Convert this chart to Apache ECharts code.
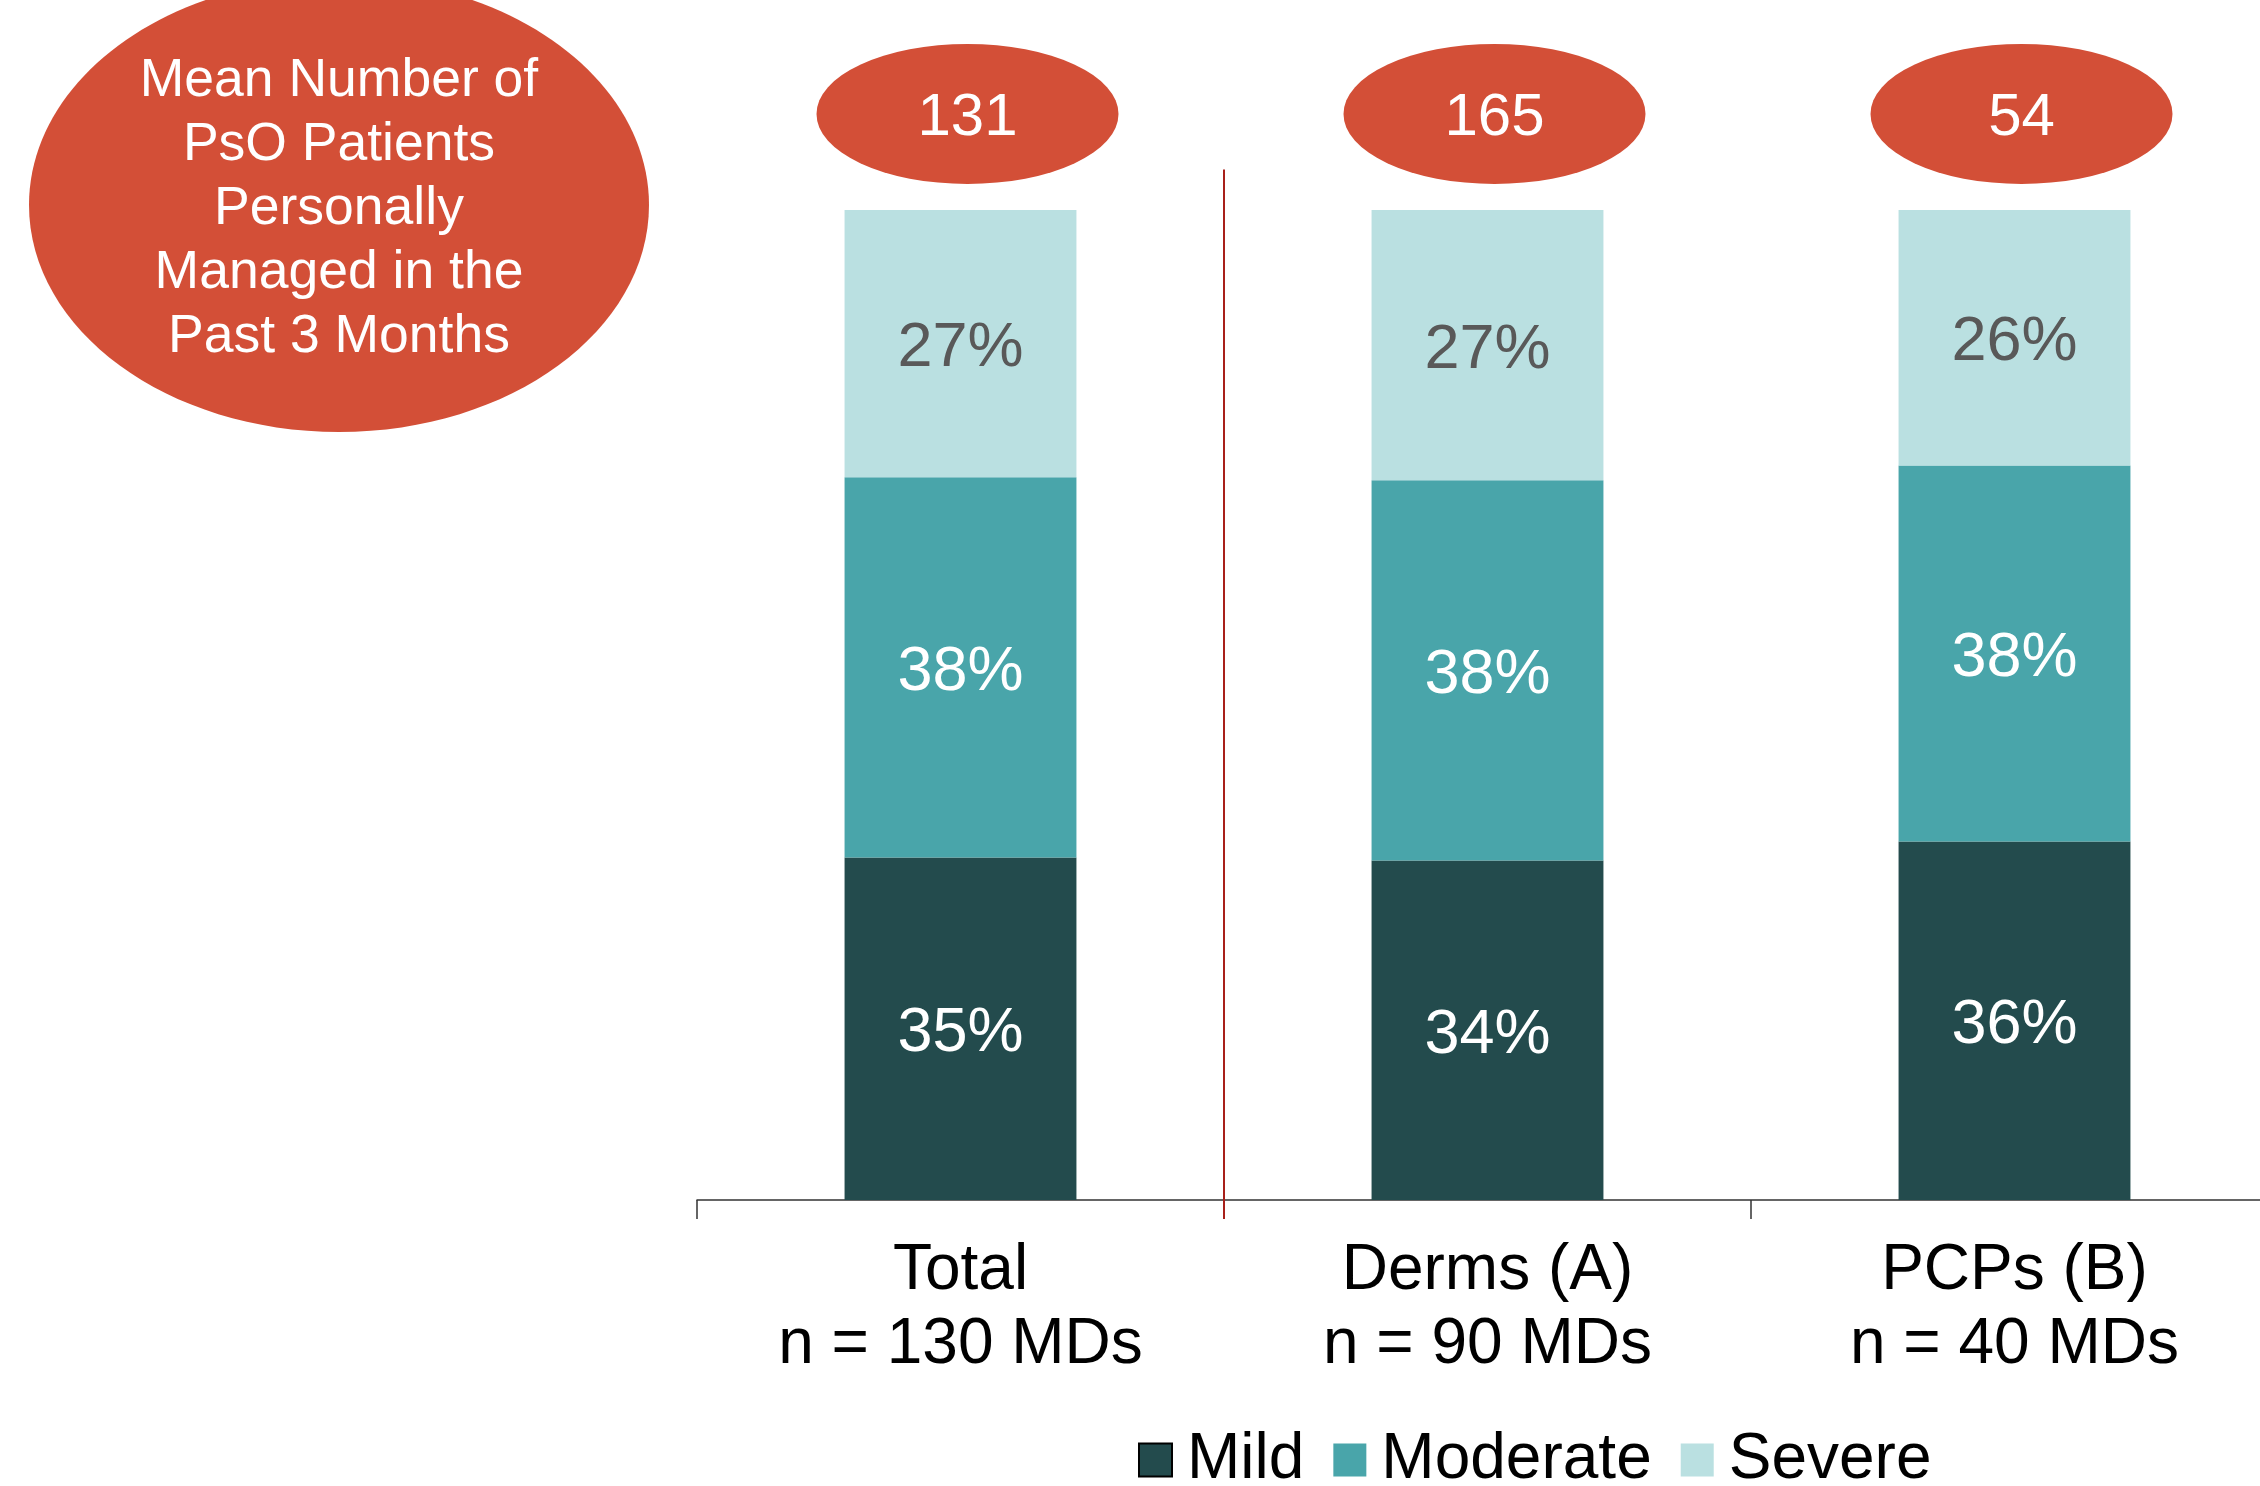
<!DOCTYPE html>
<html>
<head>
<meta charset="utf-8">
<script src="https://cdn.jsdelivr.net/npm/echarts@6/dist/echarts.min.js"></script>
<style>html,body{margin:0;padding:0;background:#fff;}#c{width:2260px;height:1486px;}</style>
</head>
<body>
<div id="c"></div>
<script>
const categories = ['Total\nn = 130 MDs', 'Derms (A)\nn = 90 MDs', 'PCPs (B)\nn = 40 MDs'];
const mild = [34.6, 34.3, 36.2];
const moderate = [38.4, 38.4, 38.0];
const severe = [27.0, 27.3, 25.8];
const meanPatients = [131, 165, 54];
const meanLevel = [109.7, 109.7, 109.7];
const calloutLines = ['Mean Number of', 'PsO Patients', 'Personally', 'Managed in the', 'Past 3 Months'];

const FONT = '"Liberation Sans", Arial, sans-serif';
const chart = echarts.init(document.getElementById('c'));

function barLabel(color) {
  return {
    show: true, position: 'inside', color: color, fontSize: 63, fontFamily: FONT,
    offset: [0, 5],
    formatter: p => Math.round(p.value) + '%'
  };
}

const option = {
  backgroundColor: '#ffffff',
  animation: false,
  textStyle: { fontFamily: FONT },
  grid: { left: 697, top: 210, width: 1581, height: 990, containLabel: false, outerBoundsMode: 'none' },
  legend: {
    left: 1138, top: 1428, itemWidth: 33, itemHeight: 33, itemGap: 29, padding: 0,
    icon: 'rect',
    textStyle: { fontSize: 64, color: '#000', fontFamily: FONT, lineHeight: 64, padding: [0, 0, 0, 10] },
    data: [
      { name: 'Mild', itemStyle: { borderColor: '#000', borderWidth: 2 } },
      { name: 'Moderate' },
      { name: 'Severe' }
    ]
  },
  xAxis: {
    type: 'category', data: categories,
    axisLine: { lineStyle: { color: '#333', width: 1.5 } },
    axisTick: { show: true, length: 19, lineStyle: { color: '#333', width: 1.5 } },
    axisLabel: { fontSize: 64, lineHeight: 74, color: '#000', margin: 34, fontFamily: FONT, interval: 0 }
  },
  yAxis: {
    type: 'value', min: 0, max: 100, show: false, splitLine: { show: false }
  },
  series: [
    { name: 'Mild', type: 'bar', stack: 's', data: mild, barWidth: '44%',
      itemStyle: { color: '#234B4D' }, label: barLabel('#ffffff') },
    { name: 'Moderate', type: 'bar', stack: 's', data: moderate,
      itemStyle: { color: '#49A5AA' }, label: barLabel('#ffffff') },
    { name: 'Severe', type: 'bar', stack: 's', data: severe,
      itemStyle: { color: '#BAE0E1' }, label: barLabel('#595959') },
    { name: 'Mean', type: 'scatter', clip: false, symbol: 'circle', symbolSize: [302, 140],
      symbolOffset: [7, 0],
      data: meanLevel.map((v, i) => ({ value: v, label: { formatter: String(meanPatients[i]) } })),
      itemStyle: { color: '#D34F37', opacity: 1 },
      label: { show: true, position: 'inside', color: '#fff', fontSize: 60, fontFamily: FONT, offset: [0, 4] },
      emphasis: { disabled: true }, z: 5 }
  ]
};
chart.setOption(option);

const p0 = chart.convertToPixel({ seriesIndex: 0 }, [0, 0]);
const p1 = chart.convertToPixel({ seriesIndex: 0 }, [1, 0]);
const pTop = chart.convertToPixel({ seriesIndex: 0 }, [0, 104.1]);
const divX = (p0[0] + p1[0]) / 2;

chart.setOption({
  graphic: [
    { type: 'line', shape: { x1: divX, y1: pTop[1], x2: divX, y2: p0[1] + 19 },
      style: { stroke: '#A8201A', lineWidth: 2 }, z: 10 },
    { type: 'ellipse', shape: { cx: 339, cy: 205, rx: 310, ry: 227 },
      style: { fill: '#D34F37' }, z: 1 },
    { type: 'text', x: 339, y: 209, z: 2,
      style: { text: calloutLines.join('\n'), fill: '#fff', fontSize: 53.5, lineHeight: 64,
        fontFamily: FONT, align: 'center', verticalAlign: 'middle' } }
  ]
});
</script>
</body>
</html>
